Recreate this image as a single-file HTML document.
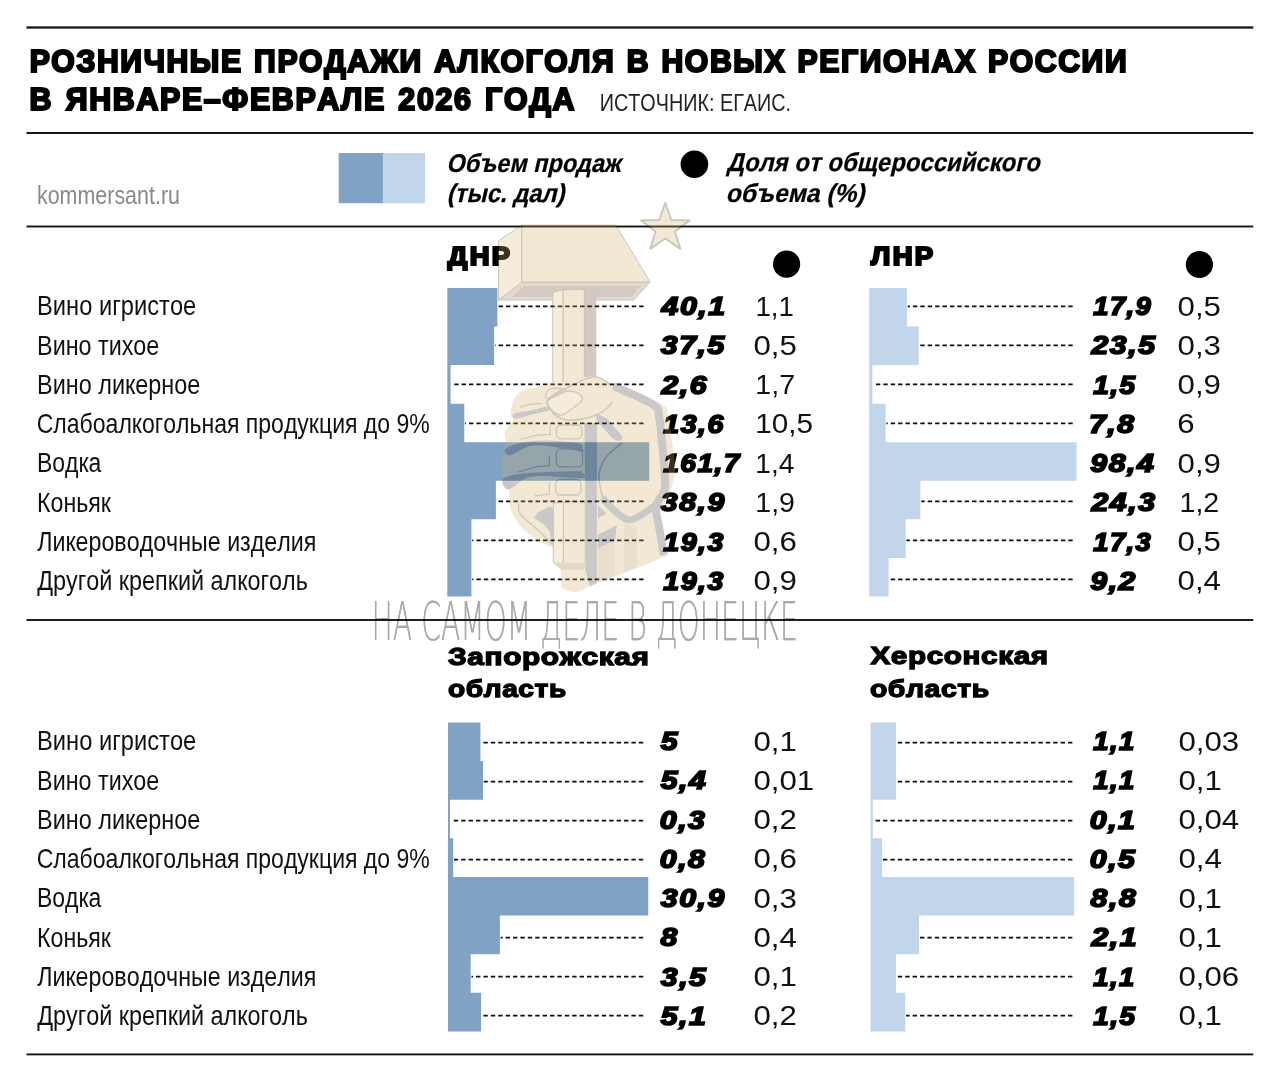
<!DOCTYPE html>
<html lang="ru"><head><meta charset="utf-8"><title>Розничные продажи алкоголя</title>
<style>
html,body{margin:0;padding:0;background:#fff}
svg{display:block}
text{font-family:"Liberation Sans",sans-serif;white-space:pre;font-kerning:none}
text.wm{font-family:"DejaVu Sans Light","DejaVu Sans","Liberation Sans",sans-serif;font-weight:200;filter:drop-shadow(0.9px 0 0 #000)}
</style></head><body>
<svg width="1280" height="1082" viewBox="0 0 1280 1082">
<rect width="1280" height="1082" fill="#fff"/>
<rect x="26.5" y="26.35" width="1226.8" height="2.30" fill="#141414"/>
<rect x="26.5" y="132.00" width="1226.8" height="2.00" fill="#141414"/>
<rect x="26.5" y="225.55" width="1226.8" height="1.90" fill="#141414"/>
<rect x="26.5" y="619.05" width="1226.8" height="1.90" fill="#141414"/>
<rect x="26.5" y="1053.45" width="1226.8" height="1.90" fill="#141414"/>
<text transform="translate(29.63 72.00) scale(0.9549 1)" font-size="31.60" font-weight="bold" stroke="#000" stroke-width="2.20" stroke-linejoin="miter" word-spacing="1.40" letter-spacing="1.70">РОЗНИЧНЫЕ ПРОДАЖИ АЛКОГОЛЯ В НОВЫХ РЕГИОНАХ РОССИИ</text>
<text transform="translate(29.62 109.90) scale(0.9619 1)" font-size="31.60" font-weight="bold" stroke="#000" stroke-width="2.20" stroke-linejoin="miter" word-spacing="2.60" letter-spacing="1.70">В ЯНВАРЕ–ФЕВРАЛЕ 2026 ГОДА</text>
<text transform="translate(599.78 111.20) scale(0.8533 1)" font-size="23.20" fill="#222">ИСТОЧНИК: ЕГАИС.</text>
<text transform="translate(36.95 204.40) scale(0.8381 1)" font-size="25.60" fill="#8c8888">kommersant.ru</text>
<rect x="338.7" y="153" width="44.3" height="50.2" fill="#7fa2c5"/>
<rect x="382.9" y="153" width="42.1" height="50.2" fill="#c1d6eb"/>
<text transform="translate(446.21 171.50) scale(0.9103 1) skewX(-14)" font-size="25.80" font-weight="bold" stroke="#000" stroke-width="0.25" stroke-linejoin="miter">Объем продаж</text>
<text transform="translate(446.66 202.30) scale(0.9221 1) skewX(-14)" font-size="25.80" font-weight="bold" stroke="#000" stroke-width="0.25" stroke-linejoin="miter">(тыс. дал)</text>
<circle cx="694.4" cy="164.2" r="13.8"/>
<text transform="translate(726.69 170.90) scale(0.9273 1) skewX(-14)" font-size="25.80" font-weight="bold" stroke="#000" stroke-width="0.25" stroke-linejoin="miter">Доля от общероссийского</text>
<text transform="translate(725.52 201.60) scale(0.9545 1) skewX(-14)" font-size="25.80" font-weight="bold" stroke="#000" stroke-width="0.25" stroke-linejoin="miter">объема (%)</text>
<text transform="translate(447.82 265.00) scale(1.0537 1)" font-size="26.00" font-weight="bold" stroke="#000" stroke-width="2.20" stroke-linejoin="miter" letter-spacing="2.20">ДНР</text>
<text transform="translate(871.06 265.20) scale(1.0572 1)" font-size="26.00" font-weight="bold" stroke="#000" stroke-width="2.20" stroke-linejoin="miter" letter-spacing="2.20">ЛНР</text>
<circle cx="786.6" cy="264.2" r="13.6"/>
<circle cx="1199.4" cy="264.5" r="13.6"/>
<text transform="translate(448.03 664.50) scale(1.2330 1)" font-size="24.20" font-weight="bold" stroke="#000" stroke-width="1.30" stroke-linejoin="miter" letter-spacing="0.50">Запорожская</text>
<text transform="translate(447.96 696.60) scale(1.1632 1)" font-size="24.20" font-weight="bold" stroke="#000" stroke-width="1.30" stroke-linejoin="miter" letter-spacing="0.50">область</text>
<text transform="translate(870.44 663.70) scale(1.2267 1)" font-size="24.20" font-weight="bold" stroke="#000" stroke-width="1.30" stroke-linejoin="miter" letter-spacing="0.50">Херсонская</text>
<text transform="translate(869.95 696.80) scale(1.1731 1)" font-size="24.20" font-weight="bold" stroke="#000" stroke-width="1.30" stroke-linejoin="miter" letter-spacing="0.50">область</text>
<text transform="translate(37.06 315.30) scale(0.8845 1)" font-size="26.80" fill="#111">Вино игристое</text>
<text transform="translate(37.09 354.55) scale(0.8704 1)" font-size="26.80" fill="#111">Вино тихое</text>
<text transform="translate(37.08 393.80) scale(0.8742 1)" font-size="26.80" fill="#111">Вино ликерное</text>
<text transform="translate(36.73 433.05) scale(0.8597 1)" font-size="26.80" fill="#111">Слабоалкогольная продукция до 9%</text>
<text transform="translate(37.02 472.30) scale(0.8566 1)" font-size="26.80" fill="#111">Водка</text>
<text transform="translate(37.00 511.55) scale(0.8652 1)" font-size="26.80" fill="#111">Коньяк</text>
<text transform="translate(37.20 550.80) scale(0.8672 1)" font-size="26.80" fill="#111">Ликероводочные изделия</text>
<text transform="translate(37.23 590.05) scale(0.8729 1)" font-size="26.80" fill="#111">Другой крепкий алкоголь</text>
<path d="M447.30 288.00H497.38V326.56H494.14V365.12H450.55V403.68H464.29V442.24H649.26V480.80H495.89V519.36H471.41V557.92H471.41V596.48H447.30Z" fill="#7fa2c5"/>
<path d="M643.60 306.40H498.18" stroke="#0d0d0d" stroke-width="1.85" stroke-dasharray="4.4 3.0" fill="none"/>
<path d="M643.60 345.40H494.94" stroke="#0d0d0d" stroke-width="1.85" stroke-dasharray="4.4 3.0" fill="none"/>
<path d="M643.60 384.40H451.35" stroke="#0d0d0d" stroke-width="1.85" stroke-dasharray="4.4 3.0" fill="none"/>
<path d="M643.60 423.40H465.09" stroke="#0d0d0d" stroke-width="1.85" stroke-dasharray="4.4 3.0" fill="none"/>
<path d="M643.60 501.40H496.69" stroke="#0d0d0d" stroke-width="1.85" stroke-dasharray="4.4 3.0" fill="none"/>
<path d="M643.60 540.40H472.21" stroke="#0d0d0d" stroke-width="1.85" stroke-dasharray="4.4 3.0" fill="none"/>
<path d="M643.60 579.40H472.21" stroke="#0d0d0d" stroke-width="1.85" stroke-dasharray="4.4 3.0" fill="none"/>
<text transform="translate(661.52 315.15) scale(1.1915 1)" font-size="25.40" font-weight="bold" font-style="italic" stroke="#000" stroke-width="1.70" stroke-linejoin="miter" letter-spacing="1.30">40,1</text>
<text transform="translate(755.40 315.70) scale(0.9995 1)" font-size="27.60" fill="#111">1,1</text>
<text transform="translate(660.78 354.40) scale(1.1915 1)" font-size="25.40" font-weight="bold" font-style="italic" stroke="#000" stroke-width="1.70" stroke-linejoin="miter" letter-spacing="1.30">37,5</text>
<text transform="translate(753.38 354.95) scale(1.1309 1)" font-size="27.60" fill="#111">0,5</text>
<text transform="translate(661.49 393.65) scale(1.1915 1)" font-size="25.40" font-weight="bold" font-style="italic" stroke="#000" stroke-width="1.70" stroke-linejoin="miter" letter-spacing="1.30">2,6</text>
<text transform="translate(755.32 394.20) scale(1.0351 1)" font-size="27.60" fill="#111">1,7</text>
<text transform="translate(663.30 432.90) scale(1.1258 1)" font-size="25.40" font-weight="bold" font-style="italic" stroke="#000" stroke-width="1.70" stroke-linejoin="miter" letter-spacing="1.30">13,6</text>
<text transform="translate(755.24 433.45) scale(1.0762 1)" font-size="27.60" fill="#111">10,5</text>
<text transform="translate(663.29 472.15) scale(1.1057 1)" font-size="25.40" font-weight="bold" font-style="italic" stroke="#000" stroke-width="1.70" stroke-linejoin="miter" letter-spacing="1.30">161,7</text>
<text transform="translate(755.36 472.70) scale(1.0181 1)" font-size="27.60" fill="#111">1,4</text>
<text transform="translate(660.78 511.40) scale(1.1915 1)" font-size="25.40" font-weight="bold" font-style="italic" stroke="#000" stroke-width="1.70" stroke-linejoin="miter" letter-spacing="1.30">38,9</text>
<text transform="translate(755.33 511.95) scale(1.0327 1)" font-size="27.60" fill="#111">1,9</text>
<text transform="translate(663.30 550.65) scale(1.1253 1)" font-size="25.40" font-weight="bold" font-style="italic" stroke="#000" stroke-width="1.70" stroke-linejoin="miter" letter-spacing="1.30">19,3</text>
<text transform="translate(753.38 551.20) scale(1.1309 1)" font-size="27.60" fill="#111">0,6</text>
<text transform="translate(663.30 589.90) scale(1.1253 1)" font-size="25.40" font-weight="bold" font-style="italic" stroke="#000" stroke-width="1.70" stroke-linejoin="miter" letter-spacing="1.30">19,3</text>
<text transform="translate(753.38 590.45) scale(1.1309 1)" font-size="27.60" fill="#111">0,9</text>
<path d="M869.20 288.00H906.93V326.56H918.74V365.12H872.36V403.68H885.64V442.24H1076.63V480.80H920.42V519.36H905.67V557.92H888.59V596.48H869.20Z" fill="#c1d6eb"/>
<path d="M1072.70 306.40H907.73" stroke="#0d0d0d" stroke-width="1.85" stroke-dasharray="4.4 3.0" fill="none"/>
<path d="M1072.70 345.40H919.54" stroke="#0d0d0d" stroke-width="1.85" stroke-dasharray="4.4 3.0" fill="none"/>
<path d="M1072.70 384.40H873.16" stroke="#0d0d0d" stroke-width="1.85" stroke-dasharray="4.4 3.0" fill="none"/>
<path d="M1072.70 423.40H886.44" stroke="#0d0d0d" stroke-width="1.85" stroke-dasharray="4.4 3.0" fill="none"/>
<path d="M1072.70 501.40H921.22" stroke="#0d0d0d" stroke-width="1.85" stroke-dasharray="4.4 3.0" fill="none"/>
<path d="M1072.70 540.40H906.47" stroke="#0d0d0d" stroke-width="1.85" stroke-dasharray="4.4 3.0" fill="none"/>
<path d="M1072.70 579.40H889.39" stroke="#0d0d0d" stroke-width="1.85" stroke-dasharray="4.4 3.0" fill="none"/>
<text transform="translate(1093.28 315.15) scale(1.0796 1)" font-size="25.40" font-weight="bold" font-style="italic" stroke="#000" stroke-width="1.70" stroke-linejoin="miter" letter-spacing="1.30">17,9</text>
<text transform="translate(1177.58 315.70) scale(1.1309 1)" font-size="27.60" fill="#111">0,5</text>
<text transform="translate(1091.49 354.40) scale(1.1915 1)" font-size="25.40" font-weight="bold" font-style="italic" stroke="#000" stroke-width="1.70" stroke-linejoin="miter" letter-spacing="1.30">23,5</text>
<text transform="translate(1177.58 354.95) scale(1.1309 1)" font-size="27.60" fill="#111">0,3</text>
<text transform="translate(1093.28 393.65) scale(1.1004 1)" font-size="25.40" font-weight="bold" font-style="italic" stroke="#000" stroke-width="1.70" stroke-linejoin="miter" letter-spacing="1.30">1,5</text>
<text transform="translate(1177.58 394.20) scale(1.1309 1)" font-size="27.60" fill="#111">0,9</text>
<text transform="translate(1088.90 432.90) scale(1.1915 1)" font-size="25.40" font-weight="bold" font-style="italic" stroke="#000" stroke-width="1.70" stroke-linejoin="miter" letter-spacing="1.30">7,8</text>
<text transform="translate(1177.21 433.45) scale(1.1309 1)" font-size="27.60" fill="#111">6</text>
<text transform="translate(1090.30 472.15) scale(1.1915 1)" font-size="25.40" font-weight="bold" font-style="italic" stroke="#000" stroke-width="1.70" stroke-linejoin="miter" letter-spacing="1.30">98,4</text>
<text transform="translate(1177.58 472.70) scale(1.1309 1)" font-size="27.60" fill="#111">0,9</text>
<text transform="translate(1091.49 511.40) scale(1.1915 1)" font-size="25.40" font-weight="bold" font-style="italic" stroke="#000" stroke-width="1.70" stroke-linejoin="miter" letter-spacing="1.30">24,3</text>
<text transform="translate(1179.52 511.95) scale(1.0351 1)" font-size="27.60" fill="#111">1,2</text>
<text transform="translate(1093.28 550.65) scale(1.0793 1)" font-size="25.40" font-weight="bold" font-style="italic" stroke="#000" stroke-width="1.70" stroke-linejoin="miter" letter-spacing="1.30">17,3</text>
<text transform="translate(1177.58 551.20) scale(1.1309 1)" font-size="27.60" fill="#111">0,5</text>
<text transform="translate(1090.30 589.90) scale(1.1915 1)" font-size="25.40" font-weight="bold" font-style="italic" stroke="#000" stroke-width="1.70" stroke-linejoin="miter" letter-spacing="1.30">9,2</text>
<text transform="translate(1177.58 590.45) scale(1.1309 1)" font-size="27.60" fill="#111">0,4</text>
<text transform="translate(37.06 750.30) scale(0.8845 1)" font-size="26.80" fill="#111">Вино игристое</text>
<text transform="translate(37.09 789.55) scale(0.8704 1)" font-size="26.80" fill="#111">Вино тихое</text>
<text transform="translate(37.08 828.80) scale(0.8742 1)" font-size="26.80" fill="#111">Вино ликерное</text>
<text transform="translate(36.73 868.05) scale(0.8597 1)" font-size="26.80" fill="#111">Слабоалкогольная продукция до 9%</text>
<text transform="translate(37.02 907.30) scale(0.8566 1)" font-size="26.80" fill="#111">Водка</text>
<text transform="translate(37.00 946.55) scale(0.8652 1)" font-size="26.80" fill="#111">Коньяк</text>
<text transform="translate(37.20 985.80) scale(0.8672 1)" font-size="26.80" fill="#111">Ликероводочные изделия</text>
<text transform="translate(37.23 1025.05) scale(0.8729 1)" font-size="26.80" fill="#111">Другой крепкий алкоголь</text>
<path d="M448.00 722.40H480.40V761.03H482.99V799.66H449.94V838.29H453.18V876.92H648.23V915.55H499.84V954.18H470.68V992.81H481.05V1031.44H448.00Z" fill="#7fa2c5"/>
<path d="M643.20 742.60H481.20" stroke="#0d0d0d" stroke-width="1.85" stroke-dasharray="4.4 3.0" fill="none"/>
<path d="M643.20 781.60H483.79" stroke="#0d0d0d" stroke-width="1.85" stroke-dasharray="4.4 3.0" fill="none"/>
<path d="M643.20 820.60H450.74" stroke="#0d0d0d" stroke-width="1.85" stroke-dasharray="4.4 3.0" fill="none"/>
<path d="M643.20 859.60H453.98" stroke="#0d0d0d" stroke-width="1.85" stroke-dasharray="4.4 3.0" fill="none"/>
<path d="M643.20 937.60H500.64" stroke="#0d0d0d" stroke-width="1.85" stroke-dasharray="4.4 3.0" fill="none"/>
<path d="M643.20 976.60H471.48" stroke="#0d0d0d" stroke-width="1.85" stroke-dasharray="4.4 3.0" fill="none"/>
<path d="M643.20 1015.60H481.85" stroke="#0d0d0d" stroke-width="1.85" stroke-dasharray="4.4 3.0" fill="none"/>
<text transform="translate(660.72 750.15) scale(1.1915 1)" font-size="25.40" font-weight="bold" font-style="italic" stroke="#000" stroke-width="1.70" stroke-linejoin="miter" letter-spacing="1.30">5</text>
<text transform="translate(753.38 750.70) scale(1.1309 1)" font-size="27.60" fill="#111">0,1</text>
<text transform="translate(660.72 789.40) scale(1.1915 1)" font-size="25.40" font-weight="bold" font-style="italic" stroke="#000" stroke-width="1.70" stroke-linejoin="miter" letter-spacing="1.30">5,4</text>
<text transform="translate(753.38 789.95) scale(1.1309 1)" font-size="27.60" fill="#111">0,01</text>
<text transform="translate(659.76 828.65) scale(1.1915 1)" font-size="25.40" font-weight="bold" font-style="italic" stroke="#000" stroke-width="1.70" stroke-linejoin="miter" letter-spacing="1.30">0,3</text>
<text transform="translate(753.38 829.20) scale(1.1309 1)" font-size="27.60" fill="#111">0,2</text>
<text transform="translate(659.76 867.90) scale(1.1915 1)" font-size="25.40" font-weight="bold" font-style="italic" stroke="#000" stroke-width="1.70" stroke-linejoin="miter" letter-spacing="1.30">0,8</text>
<text transform="translate(753.38 868.45) scale(1.1309 1)" font-size="27.60" fill="#111">0,6</text>
<text transform="translate(660.78 907.15) scale(1.1915 1)" font-size="25.40" font-weight="bold" font-style="italic" stroke="#000" stroke-width="1.70" stroke-linejoin="miter" letter-spacing="1.30">30,9</text>
<text transform="translate(753.38 907.70) scale(1.1309 1)" font-size="27.60" fill="#111">0,3</text>
<text transform="translate(660.61 946.40) scale(1.1915 1)" font-size="25.40" font-weight="bold" font-style="italic" stroke="#000" stroke-width="1.70" stroke-linejoin="miter" letter-spacing="1.30">8</text>
<text transform="translate(753.38 946.95) scale(1.1309 1)" font-size="27.60" fill="#111">0,4</text>
<text transform="translate(660.78 985.65) scale(1.1915 1)" font-size="25.40" font-weight="bold" font-style="italic" stroke="#000" stroke-width="1.70" stroke-linejoin="miter" letter-spacing="1.30">3,5</text>
<text transform="translate(753.38 986.20) scale(1.1309 1)" font-size="27.60" fill="#111">0,1</text>
<text transform="translate(660.72 1024.90) scale(1.1915 1)" font-size="25.40" font-weight="bold" font-style="italic" stroke="#000" stroke-width="1.70" stroke-linejoin="miter" letter-spacing="1.30">5,1</text>
<text transform="translate(753.38 1025.45) scale(1.1309 1)" font-size="27.60" fill="#111">0,2</text>
<path d="M870.50 722.40H895.97V761.03H895.97V799.66H872.82V838.29H882.08V876.92H1074.22V915.55H919.12V954.18H895.97V992.81H905.23V1031.44H870.50Z" fill="#c1d6eb"/>
<path d="M1072.40 742.60H896.76" stroke="#0d0d0d" stroke-width="1.85" stroke-dasharray="4.4 3.0" fill="none"/>
<path d="M1072.40 781.60H896.76" stroke="#0d0d0d" stroke-width="1.85" stroke-dasharray="4.4 3.0" fill="none"/>
<path d="M1072.40 820.60H873.62" stroke="#0d0d0d" stroke-width="1.85" stroke-dasharray="4.4 3.0" fill="none"/>
<path d="M1072.40 859.60H882.88" stroke="#0d0d0d" stroke-width="1.85" stroke-dasharray="4.4 3.0" fill="none"/>
<path d="M1072.40 937.60H919.91" stroke="#0d0d0d" stroke-width="1.85" stroke-dasharray="4.4 3.0" fill="none"/>
<path d="M1072.40 976.60H896.76" stroke="#0d0d0d" stroke-width="1.85" stroke-dasharray="4.4 3.0" fill="none"/>
<path d="M1072.40 1015.60H906.02" stroke="#0d0d0d" stroke-width="1.85" stroke-dasharray="4.4 3.0" fill="none"/>
<text transform="translate(1093.28 750.15) scale(1.0779 1)" font-size="25.40" font-weight="bold" font-style="italic" stroke="#000" stroke-width="1.70" stroke-linejoin="miter" letter-spacing="1.30">1,1</text>
<text transform="translate(1178.38 750.70) scale(1.1309 1)" font-size="27.60" fill="#111">0,03</text>
<text transform="translate(1093.28 789.40) scale(1.0779 1)" font-size="25.40" font-weight="bold" font-style="italic" stroke="#000" stroke-width="1.70" stroke-linejoin="miter" letter-spacing="1.30">1,1</text>
<text transform="translate(1178.38 789.95) scale(1.1309 1)" font-size="27.60" fill="#111">0,1</text>
<text transform="translate(1089.76 828.65) scale(1.1915 1)" font-size="25.40" font-weight="bold" font-style="italic" stroke="#000" stroke-width="1.70" stroke-linejoin="miter" letter-spacing="1.30">0,1</text>
<text transform="translate(1178.38 829.20) scale(1.1309 1)" font-size="27.60" fill="#111">0,04</text>
<text transform="translate(1089.76 867.90) scale(1.1915 1)" font-size="25.40" font-weight="bold" font-style="italic" stroke="#000" stroke-width="1.70" stroke-linejoin="miter" letter-spacing="1.30">0,5</text>
<text transform="translate(1178.38 868.45) scale(1.1309 1)" font-size="27.60" fill="#111">0,4</text>
<text transform="translate(1090.61 907.15) scale(1.1915 1)" font-size="25.40" font-weight="bold" font-style="italic" stroke="#000" stroke-width="1.70" stroke-linejoin="miter" letter-spacing="1.30">8,8</text>
<text transform="translate(1178.38 907.70) scale(1.1309 1)" font-size="27.60" fill="#111">0,1</text>
<text transform="translate(1091.49 946.40) scale(1.1915 1)" font-size="25.40" font-weight="bold" font-style="italic" stroke="#000" stroke-width="1.70" stroke-linejoin="miter" letter-spacing="1.30">2,1</text>
<text transform="translate(1178.38 946.95) scale(1.1309 1)" font-size="27.60" fill="#111">0,1</text>
<text transform="translate(1093.28 985.65) scale(1.0779 1)" font-size="25.40" font-weight="bold" font-style="italic" stroke="#000" stroke-width="1.70" stroke-linejoin="miter" letter-spacing="1.30">1,1</text>
<text transform="translate(1178.38 986.20) scale(1.1309 1)" font-size="27.60" fill="#111">0,06</text>
<text transform="translate(1093.28 1024.90) scale(1.1004 1)" font-size="25.40" font-weight="bold" font-style="italic" stroke="#000" stroke-width="1.70" stroke-linejoin="miter" letter-spacing="1.30">1,5</text>
<text transform="translate(1178.38 1025.45) scale(1.1309 1)" font-size="27.60" fill="#111">0,1</text>
<g opacity="0.27">
<path d="M665.3 202.8 L671.3 220.0 L689.6 220.4 L675.0 231.5 L680.3 248.9 L665.3 238.5 L650.3 248.9 L655.6 231.5 L641.0 220.4 L659.3 220.0Z" fill="#d6ae60" stroke="#3a2e1e" stroke-width="1.9" stroke-linejoin="round"/>
<path d="M498.6 300.0 L521.8 282.0 L650.2 282.0 L633.8 300.0Z" fill="#9a7440" stroke="#3a2608" stroke-width="1.0" stroke-linejoin="round"/>
<path d="M511.8 296.9 L523.8 286.3 L639.8 286.3 L631.3 296.9Z" fill="#633e24"/>
<path d="M521.8 225.2 L498.6 240.7 L498.6 300.0 L521.8 282.0Z" fill="#e0bd78" stroke="#3a2608" stroke-width="1.0" stroke-linejoin="round"/>
<path d="M521.8 225.2 L615.8 225.2 L650.2 282.0 L521.8 282.0Z" fill="#d6ae60" stroke="#3a2608" stroke-width="1.0" stroke-linejoin="round"/>
<path d="M552.7 292.5 L563.2 289.6 L563.2 392.0 L552.7 392.0Z" fill="#e0bd78" stroke="#3a2608" stroke-width="1.0" stroke-linejoin="round"/>
<path d="M563.2 289.6 L584.4 289.6 L584.4 392.0 L563.2 392.0Z" fill="#d6ae60" stroke="#3a2608" stroke-width="1.0" stroke-linejoin="round"/>
<path d="M584.4 289.6 L595.8 292.5 L595.8 392.0 L584.4 392.0Z" fill="#633e24" stroke="#3a2608" stroke-width="0.8" stroke-linejoin="round"/>
<path d="M583.8 377.0 C580.4 377.8 570.5 380.3 563.4 381.7 C556.4 383.2 549.1 383.7 541.6 385.6 C534.0 387.6 523.3 389.0 518.1 393.4 C512.9 397.9 511.1 407.8 510.3 412.2 C509.5 416.6 514.3 416.6 513.4 420.0 C512.5 423.4 506.1 428.6 504.8 432.5 C503.5 436.4 506.3 438.2 505.6 443.4 C505.0 448.6 501.5 458.0 500.9 463.8 C500.4 469.5 501.2 473.5 502.5 477.8 C503.8 482.1 507.4 484.3 508.8 489.4 C510.1 494.4 508.2 501.9 510.3 508.1 C512.4 514.4 516.0 521.1 521.2 526.9 C526.5 532.6 536.4 539.1 541.6 542.5 C546.8 545.9 550.7 546.4 552.5 547.2 L553.3 548.8 L553.3 562.8 L561.1 569.8 L561.1 587.8 L575.2 592.8 L590.0 586.2 L646.2 564.4 L666.6 555.8 L666.6 555.8 C665.8 551.0 663.0 533.9 661.9 526.9 C660.7 519.8 658.2 519.3 659.5 513.6 C660.8 507.9 667.1 499.8 669.7 492.5 C672.3 485.2 674.8 478.4 675.2 470.0 C675.5 461.6 673.2 451.0 672.0 441.9 C670.9 432.8 670.1 421.7 668.1 415.3 C666.2 408.9 669.7 408.7 660.3 403.6 C650.9 398.5 622.0 389.3 611.9 384.8 C601.7 380.4 604.1 378.3 599.4 377.0 C594.7 375.7 586.4 377.0 583.8 377.0Z" fill="#d6ae60"/>
<path d="M553.3 503.4 L563.4 501.9 L563.4 564.4 L553.3 562.8Z" fill="#e0bd78" stroke="#3a2608" stroke-width="1.0" stroke-linejoin="round"/>
<path d="M563.4 501.9 L585.3 501.9 L585.3 564.4 L563.4 564.4Z" fill="#d6ae60" stroke="#3a2608" stroke-width="1.0" stroke-linejoin="round"/>
<path d="M597.8 548.8 L615.0 540.2 L615.0 575.3 L597.8 582.3Z" fill="#b48c4c"/>
<path d="M624.4 523.0 L636.9 526.9 L636.9 567.5 L624.4 572.2Z" fill="#b48c4c"/>
<path d="M584.5 423.1 L596.2 423.1 L596.2 583.1 L590.0 586.6 L585.3 569.8 L585.3 501.9Z" fill="#43383a"/>
<path d="M553.3 562.8 L561.1 569.8 L583.8 569.8 L586.9 562.8Z" fill="#9a7440"/>
<path d="M596.2 423.1L596.2 583.1" stroke="#3a2608" stroke-width="1" fill="none"/>
<path d="M613.4 385.9 C620.1 389.1 645.7 399.5 653.3 404.7 C660.9 409.8 657.6 410.7 659.1 416.9 C660.5 423.1 661.0 433.0 661.9 441.9 C662.8 450.7 663.9 462.1 664.4 470.0 C664.8 477.9 666.1 483.3 664.7 489.4 C663.3 495.5 656.9 500.3 655.9 506.6 C655.0 512.8 657.8 518.8 659.1 526.9 C660.4 534.9 663.0 550.3 663.8 555.0" fill="none" stroke="#43383a" stroke-width="8" stroke-linecap="butt" stroke-linejoin="round"/>
<path d="M654.8 505.8 C650.8 508.1 637.5 519.2 630.6 519.8 C623.7 520.5 618.1 513.5 613.4 509.7 C608.8 505.9 604.3 499.3 602.5 497.2" fill="none" stroke="#43383a" stroke-width="7" stroke-linejoin="round"/>
<path d="M602.5 497.2 C602.0 494.8 599.9 487.4 599.4 483.1 C598.9 478.9 598.2 476.0 599.4 471.6 C600.5 467.2 602.6 461.5 606.4 456.7 C610.2 451.9 619.4 445.0 622.0 442.7" fill="none" stroke="#4a3418" stroke-width="1.6" stroke-linejoin="round"/>
<path d="M597.0 414.7 C598.7 414.4 604.2 416.6 606.9 418.5 C609.6 420.4 610.6 423.1 613.2 426.3 C615.8 429.4 622.2 434.9 622.6 437.2 C623.0 439.6 618.6 441.6 615.6 440.3 C612.6 439.1 607.9 433.1 604.8 429.8 C601.7 426.5 598.3 423.1 597.0 420.6 C595.8 418.1 595.4 415.1 597.0 414.7Z" fill="#43383a"/>
<path d="M597.8 505.0 L606.4 513.6 L597.8 518.3Z" fill="#43383a"/>
<path d="M597.8 534.7 L616.9 525.0 L615.0 540.2 L597.8 548.8Z" fill="#43383a"/>
<path d="M534.5 516.7 C534.7 514.1 541.6 510.1 544.7 508.9 C547.8 507.7 551.8 503.6 553.3 509.7 C554.7 515.8 553.9 542.0 553.3 545.6 C552.6 549.3 550.9 535.1 549.4 531.6 C547.8 528.0 546.4 527.0 543.9 524.5 C541.4 522.1 534.4 519.3 534.5 516.7Z" fill="#43383a"/>
<path d="M518.9 503.4 C519.1 505.1 517.0 509.3 520.0 513.6 C523.0 517.9 531.5 524.1 536.9 529.2 C542.3 534.3 549.9 541.8 552.5 544.4" fill="none" stroke="#4a3418" stroke-width="1.4"/>
<path d="M513.4 413.9 C515.7 412.6 524.2 411.9 529.5 410.8 C534.9 409.7 542.1 407.6 545.3 407.1 C548.5 406.7 548.6 407.6 548.9 408.3 C549.2 408.9 550.1 410.0 547.1 411.1 C544.1 412.1 536.2 413.5 530.9 414.7 C525.7 416.0 518.7 418.8 515.8 418.7 C512.8 418.5 511.1 415.2 513.4 413.9Z" fill="#43383a"/>
<path d="M506.4 448.1 C510.6 445.7 523.5 441.6 535.3 440.8 C547.2 439.9 569.6 441.8 577.5 443.1 C585.4 444.5 581.7 447.5 582.5 448.9 C583.3 450.3 590.4 452.2 582.5 451.6 C574.6 451.0 547.3 444.7 535.3 445.3 C523.3 445.9 515.1 454.7 510.3 455.2 C505.5 455.6 502.2 450.5 506.4 448.1Z" fill="#43383a"/>
<path d="M503.8 478.1 C507.7 475.3 519.9 474.0 532.2 472.8 C544.5 471.7 569.1 471.2 577.5 471.2 C585.9 471.3 581.7 472.0 582.5 473.1 C583.3 474.3 590.9 477.6 582.5 478.1 C574.1 478.7 544.5 474.7 532.2 476.6 C519.9 478.5 513.5 489.3 508.8 489.5 C504.0 489.8 499.8 480.9 503.8 478.1Z" fill="#43383a"/>
<path d="M545.3 398.8 C545.6 397.5 545.8 392.9 547.1 391.1 C548.5 389.3 550.3 388.6 553.4 388.3 C556.6 388.0 564.0 389.2 566.1 389.4" fill="none" stroke="#4a3418" stroke-width="1.3"/>
<path d="M612.5 385.8 C610.2 384.3 602.7 378.5 598.5 377.3 C594.2 376.1 591.0 377.4 587.2 378.4 C583.5 379.4 579.9 381.5 575.9 383.4 C572.0 385.2 567.2 387.4 563.3 389.4 C559.4 391.4 555.5 393.3 552.7 395.3 C550.0 397.3 547.4 399.0 546.8 401.2 C546.3 403.5 547.8 406.1 549.5 408.7 C551.2 411.2 554.0 414.5 557.0 416.4 C560.0 418.3 562.9 419.7 567.5 420.1 C572.1 420.4 579.2 419.7 584.4 418.7 C589.5 417.6 594.6 415.7 598.5 413.9 C602.3 412.1 605.3 409.7 607.6 407.7 C609.9 405.7 611.7 402.7 612.5 401.6" fill="#d6ae60" stroke="#4a3418" stroke-width="1.4"/>
<path d="M547.5 401.2 C548.8 399.5 552.8 397.3 556.3 395.6 C559.7 393.9 564.5 391.4 568.2 391.1 C572.0 390.8 576.4 392.2 578.8 393.6 C581.1 395.1 583.4 397.4 582.4 399.8 C581.5 402.2 576.6 405.4 573.1 408.0 C569.7 410.5 565.1 414.3 561.9 415.0 C558.6 415.7 556.0 413.7 553.7 412.2 C551.5 410.7 549.6 407.7 548.5 405.9 C547.5 404.0 546.2 402.9 547.5 401.2Z" fill="#e0bd78" stroke="#4a3418" stroke-width="1.4" stroke-linejoin="round"/>
<path d="M547.1 399.8 C548.6 398.9 553.0 395.9 556.3 394.2 C559.5 392.5 565.0 390.4 566.8 389.7" fill="none" stroke="#43383a" stroke-width="2.2" opacity="0.8"/>
<rect x="556.4" y="425.0" width="25.5" height="13.8" rx="4.5" fill="none" stroke="#4a3418" stroke-width="1.3"/>
<rect x="556.4" y="448.9" width="26.1" height="18.0" rx="4.5" fill="none" stroke="#4a3418" stroke-width="1.3"/>
<rect x="555.6" y="479.4" width="25.3" height="15.6" rx="4.5" fill="none" stroke="#4a3418" stroke-width="1.3"/>
<path d="M550.2 425.0 L550.2 434.4 L536.1 435.3 L519.7 439.5" fill="none" stroke="#4a3418" stroke-width="1.2"/>
<path d="M549.4 455.6 L549.4 465.6 L535.3 466.9 L517.3 472.3" fill="none" stroke="#4a3418" stroke-width="1.2"/>
<path d="M549.4 482.5 L549.4 494.2 L534.5 495.8" fill="none" stroke="#4a3418" stroke-width="1.2"/>
<path d="M520.4 407.4 C521.8 406.9 525.2 405.3 528.8 404.6 C532.5 403.9 540.0 403.7 542.2 403.5" fill="none" stroke="#4a3418" stroke-width="1.2"/>
</g><g opacity="0.33">
<text transform="translate(371.56 640.30) scale(0.5345 1)" font-size="52.90" class="wm">НА САМОМ ДЕЛЕ В ДОНЕЦКЕ</text>
</g>
</svg>
</body></html>
